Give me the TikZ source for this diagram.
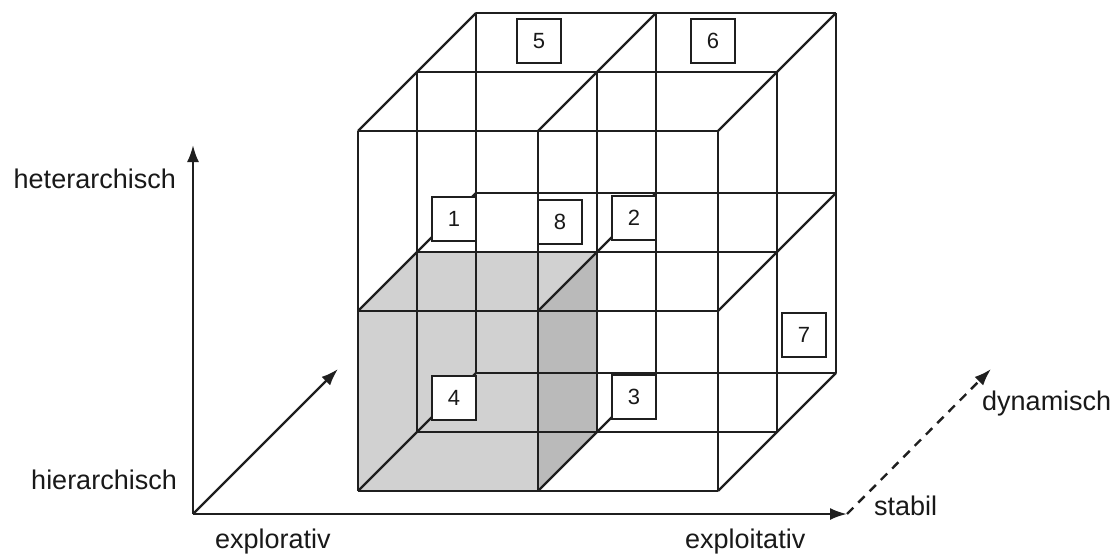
\documentclass[tikz,border=0pt]{standalone}
\usepackage{fontspec}
\setmainfont{Liberation Sans}
\usetikzlibrary{arrows.meta}
\begin{document}
\begin{tikzpicture}[x=1pt,y=-1pt,
  gridline/.style={line width=2.4pt, black!88},
  axisline/.style={line width=2.4pt, black!88, -{Latex[length=17pt,width=12pt]}},
  dashaxis/.style={axisline, dash pattern=on 9pt off 7pt},
  numbox/.style={draw=black!88, fill=white, line width=2.4pt, minimum size=43.6pt, inner sep=0pt, font=\fontsize{22}{22}\selectfont, text=black!90},
  axlabel/.style={inner sep=0pt, font=\fontsize{27}{30}\selectfont, text=black!90}]
\useasboundingbox (0,0) rectangle (1118,557);
\fill[white] (0,0) rectangle (1118,557);
\def\cx{358}\def\cy{491}\def\cs{180}\def\ddx{59}\def\ddy{59}
% shaded cell
\fill[black!18] ({\cx},{\cy}) -- ({\cx},{\cy-\cs}) -- ({\cx+\ddx},{\cy-\cs-\ddy}) -- ({\cx+\cs+\ddx},{\cy-\cs-\ddy}) -- ({\cx+\cs+\ddx},{\cy-\ddy}) -- ({\cx+\cs},{\cy}) -- cycle;
\fill[black!27] ({\cx+\cs},{\cy}) -- ({\cx+\cs},{\cy-\cs}) -- ({\cx+\cs+\ddx},{\cy-\cs-\ddy}) -- ({\cx+\cs+\ddx},{\cy-\ddy}) -- cycle;
% wireframe
\foreach \k in {0,1,2}{
  \foreach \i in {0,1,2}{
    \draw[gridline] ({\cx+\i*\cs+\k*\ddx},{\cy-\k*\ddy}) -- ({\cx+\i*\cs+\k*\ddx},{\cy-2*\cs-\k*\ddy});
    \draw[gridline] ({\cx+\k*\ddx},{\cy-\i*\cs-\k*\ddy}) -- ({\cx+2*\cs+\k*\ddx},{\cy-\i*\cs-\k*\ddy});
  }}
\foreach \i in {0,1,2}{
  \foreach \j in {0,1,2}{
    \draw[gridline] ({\cx+\i*\cs},{\cy-\j*\cs}) -- ({\cx+\i*\cs+2*\ddx},{\cy-\j*\cs-2*\ddy});
  }}
% number boxes
\node[numbox] (b1) at (454,219) {1};
\node[numbox] (b8) at (560,222) {8};
\node[numbox] (b2) at (634,218) {2};
\node[numbox] (b5) at (539,41) {5};
\node[numbox] (b6) at (713,41) {6};
\node[numbox] (b4) at (454,398) {4};
\node[numbox] (b3) at (634,397) {3};
\node[numbox] (b7) at (804,335) {7};
% axes
\coordinate (O) at (193,514);
\coordinate (Ytip) at (193,145);
\coordinate (Xtip) at (847,514);
\coordinate (Ztip) at (338,369);
\coordinate (Dtip) at (991,369);
\draw[axisline] (O) -- (Ytip);
\draw[axisline] (O) -- (Xtip);
\draw[axisline] (O) -- (Ztip);
\draw[dashaxis] (Xtip) -- (Dtip);
% labels
\node[axlabel, anchor=base east] (het) at (176,188) {heterarchisch};
\node[axlabel, anchor=base east] (hier) at (177,489) {hierarchisch};
\node[axlabel, anchor=base west] (expl) at (215,548) {explorativ};
\node[axlabel, anchor=base west] (expt) at (685,548) {exploitativ};
\node[axlabel, anchor=base west] (dyn) at (982,410) {dynamisch};
\node[axlabel, anchor=base west] (stab) at (874,515) {stabil};
\end{tikzpicture}
\end{document}
